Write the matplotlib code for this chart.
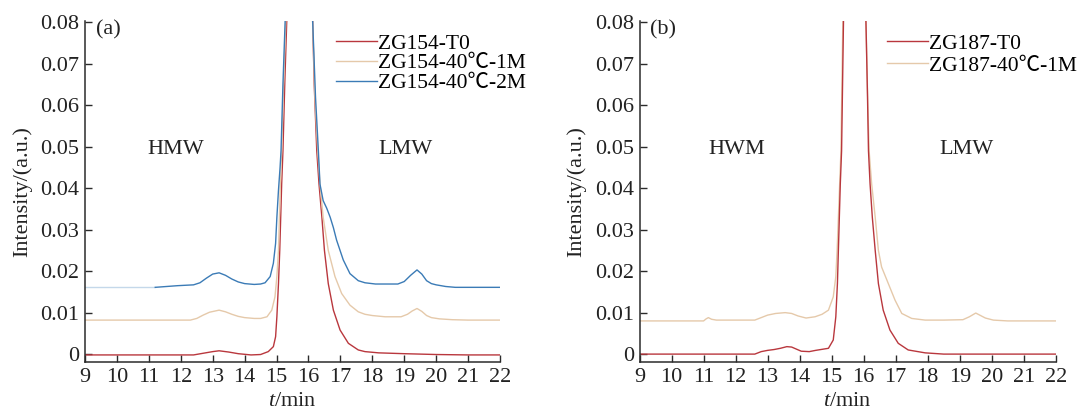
"""
GPC traces, two panels (a) ZG154 and (b) ZG187
"""
import matplotlib
matplotlib.use('Agg')
import matplotlib.pyplot as plt
from matplotlib.ticker import FuncFormatter

plt.rcParams['font.family'] = ['Liberation Serif', 'Noto Sans CJK SC', 'DejaVu Sans']
plt.rcParams['mathtext.fontset'] = 'custom'
plt.rcParams['mathtext.rm'] = 'Liberation Serif'
plt.rcParams['mathtext.it'] = 'Liberation Serif:italic'
plt.rcParams['font.size'] = 16

RED = '#b9373d'
BEIGE = '#e5c9aa'
BLUE = '#3b7bb6'
BLUE_LIGHT = '#c4d8ea'

# ---- panel (a): ZG154 ----
a_t0_x = [9.0, 12.4, 12.7, 13.0, 13.2, 13.5, 13.8, 14.2, 14.5, 14.74, 14.9, 14.97,
          15.01, 15.06, 15.1, 15.13, 15.16, 15.2, 15.26, 15.32, 15.7, 16.13, 16.18,
          16.26, 16.33, 16.42, 16.5, 16.62, 16.78, 16.99, 17.25, 17.56, 17.77, 18.2,
          19.0, 20.0, 21.0, 22.0]
a_t0_y = [-0.0002, -0.0002, 0.0002, 0.0006, 0.0008, 0.0005, 0.0001, -0.0002, -0.0001,
          0.0006, 0.0018, 0.0042, 0.009, 0.017, 0.025, 0.033, 0.041, 0.049, 0.066,
          0.0805, 0.3, 0.0805, 0.065, 0.049, 0.041, 0.033, 0.025, 0.017, 0.0106,
          0.0058, 0.0026, 0.001, 0.0006, 0.0003, 0.0001, -0.0001, -0.0002, -0.0002]

a_1m_x = [9.0, 12.3, 12.5, 12.7, 12.9, 13.2, 13.4, 13.6, 13.8, 14.0, 14.3, 14.5, 14.7,
          14.85, 14.95, 15.01, 15.06, 15.09, 15.12, 15.16, 15.22, 15.29, 15.7, 16.13,
          16.2, 16.29, 16.36, 16.46, 16.62, 16.83, 17.04, 17.3, 17.56, 17.77, 18.0,
          18.4, 18.9, 19.1, 19.25, 19.4, 19.55, 19.7, 19.85, 20.1, 20.5, 21.0, 22.0]
a_1m_y = [0.0082, 0.0082, 0.0086, 0.0094, 0.0101, 0.0106, 0.0102, 0.0096, 0.0091,
          0.0088, 0.0086, 0.0086, 0.009, 0.0106, 0.0138, 0.0187, 0.025, 0.033, 0.041,
          0.049, 0.065, 0.0805, 0.28, 0.0805, 0.062, 0.049, 0.041, 0.033, 0.025,
          0.0187, 0.0146, 0.0118, 0.0102, 0.0096, 0.0093, 0.009, 0.009, 0.0096,
          0.0104, 0.011, 0.0103, 0.0093, 0.0088, 0.0085, 0.0083, 0.0082, 0.0082]

a_2m_x = [9.0, 11.2, 11.9, 12.4, 12.6, 12.8, 13.0, 13.2, 13.4, 13.6, 13.8, 14.0, 14.3,
          14.5, 14.64, 14.8, 14.9, 14.97, 15.01, 15.06, 15.11, 15.14, 15.2, 15.27,
          15.7, 16.13, 16.22, 16.31, 16.36, 16.46, 16.57, 16.68, 16.78, 16.88, 17.09,
          17.3, 17.56, 17.77, 18.1, 18.8, 19.0, 19.2, 19.4, 19.55, 19.7, 19.85, 20.0,
          20.3, 20.6, 22.0]
a_2m_y = [0.0161, 0.0161, 0.0165, 0.0167, 0.0172, 0.0183, 0.0193, 0.0196, 0.019,
          0.0181, 0.0174, 0.017, 0.0168, 0.0169, 0.0172, 0.0187, 0.0219, 0.0267,
          0.033, 0.0395, 0.045, 0.049, 0.065, 0.0805, 0.27, 0.0805, 0.062, 0.049,
          0.041, 0.037, 0.0352, 0.033, 0.0305, 0.0275, 0.0227, 0.0194, 0.0177,
          0.0172, 0.0169, 0.0169, 0.0175, 0.019, 0.0203, 0.0193, 0.0177, 0.017,
          0.0167, 0.0163, 0.0161, 0.0161]

# ---- panel (b): ZG187 ----
b_t0_x = [9.0, 12.6, 12.8, 13.0, 13.2, 13.4, 13.6, 13.75, 13.9, 14.05, 14.3, 14.5,
          14.9, 15.05, 15.13, 15.18, 15.21, 15.24, 15.27, 15.31, 15.37, 15.75, 16.07,
          16.12, 16.15, 16.2, 16.27, 16.36, 16.46, 16.61, 16.82, 17.08, 17.39, 17.92,
          18.5, 22.0]
b_t0_y = [0.0, 0.0, 0.0006, 0.0009, 0.0011, 0.0014, 0.0018, 0.0017, 0.0012, 0.0007,
          0.0006, 0.0009, 0.0014, 0.0034, 0.009, 0.017, 0.025, 0.033, 0.041, 0.049,
          0.0805, 0.3, 0.0805, 0.062, 0.049, 0.041, 0.033, 0.025, 0.017, 0.0106,
          0.0058, 0.0026, 0.001, 0.0003, 0.0, 0.0]

b_1m_x = [9.0, 11.0, 11.08, 11.15, 11.25, 11.4, 12.6, 12.8, 13.0, 13.25, 13.55, 13.75,
          13.95, 14.2, 14.48, 14.7, 14.9, 15.05, 15.13, 15.17, 15.21, 15.25, 15.29,
          15.35, 15.75, 16.07, 16.13, 16.17, 16.25, 16.36, 16.46, 16.56, 16.77, 16.98,
          17.19, 17.5, 17.92, 18.5, 19.1, 19.3, 19.5, 19.65, 19.8, 20.05, 20.5, 22.0]
b_1m_y = [0.008, 0.008, 0.0085, 0.0088, 0.0084, 0.0082, 0.0082, 0.0088, 0.0094,
          0.0098, 0.01, 0.0098, 0.0092, 0.0087, 0.009, 0.0096, 0.0106, 0.0138,
          0.0187, 0.025, 0.033, 0.041, 0.049, 0.0805, 0.28, 0.0805, 0.06, 0.049,
          0.041, 0.033, 0.025, 0.021, 0.017, 0.013, 0.0098, 0.0086, 0.0082, 0.0082,
          0.0083, 0.009, 0.0099, 0.0093, 0.0087, 0.0082, 0.008, 0.008]

xticks = list(range(9, 23))
yticks = [0, 0.01, 0.02, 0.03, 0.04, 0.05, 0.06, 0.07, 0.08]


def style_axes(ax, tag, left_word, left_x, right_x):
    ax.set_xlim(9, 22)
    ax.set_ylim(-0.0019, 0.0803)
    ax.set_xticks(xticks)
    ax.set_yticks(yticks)
    ax.yaxis.set_major_formatter(FuncFormatter(lambda v, p: '0' if abs(v) < 1e-9 else '%.2f' % v))
    for s in ['top', 'right']:
        ax.spines[s].set_visible(False)
    for s in ['left', 'bottom']:
        ax.spines[s].set_linewidth(1.1)
        ax.spines[s].set_color('#2b2b2b')
    ax.tick_params(direction='in', length=5, width=1.0, color='#2b2b2b',
                   labelsize=16, labelcolor='#222222', pad=4)
    ax.set_xlabel(r'$\it{t}$/min', color='#222222')
    ax.set_ylabel('Intensity/(a.u.)', color='#222222')
    ax.xaxis.set_label_coords(0.5, -0.088)
    ax.yaxis.set_label_coords(-0.128, 0.5)
    ax.text(9.33, 0.0783, tag, ha='left', va='center', color='#222222')
    ax.text(left_x, 0.0493, left_word, ha='center', va='center', color='#222222')
    ax.text(right_x, 0.0493, 'LMW', ha='center', va='center', color='#222222')


fig = plt.figure(figsize=(10.79, 4.12), dpi=100)
ax1 = fig.add_axes([0.0788, 0.1214, 0.3846, 0.8274])
ax2 = fig.add_axes([0.5927, 0.1214, 0.3858, 0.8274])

n_light = a_2m_x.index(11.2) + 1
ax1.plot(a_t0_x, a_t0_y, color=RED, lw=1.0, label='ZG154-T0')
ax1.plot(a_1m_x, a_1m_y, color=BEIGE, lw=1.0, label='ZG154-40℃-1M')
ax1.plot(a_2m_x[:n_light], a_2m_y[:n_light], color=BLUE_LIGHT, lw=1.0)
ax1.plot(a_2m_x[n_light - 1:], a_2m_y[n_light - 1:], color=BLUE, lw=1.0, label='ZG154-40℃-2M')
style_axes(ax1, '(a)', 'HMW', 11.83, 19.05)
ax1.legend(loc='upper left', bbox_to_anchor=(0.605, 0.963), frameon=False,
           handlelength=1.9, handletextpad=0.05, borderpad=0, borderaxespad=0,
           labelspacing=-0.02, fontsize=15.5)

ax2.plot(b_1m_x, b_1m_y, color=BEIGE, lw=1.0, label='ZG187-40℃-1M')
ax2.plot(b_t0_x, b_t0_y, color=RED, lw=1.0, label='ZG187-T0')
style_axes(ax2, '(b)', 'HWM', 12.03, 19.2)
h, l = ax2.get_legend_handles_labels()
ax2.legend(h[::-1], l[::-1], loc='upper left', bbox_to_anchor=(0.594, 0.963),
           frameon=False, handlelength=1.9, handletextpad=0.05, borderpad=0,
           borderaxespad=0, labelspacing=0.08, fontsize=15.5)

fig.savefig('out.png', dpi=100)
